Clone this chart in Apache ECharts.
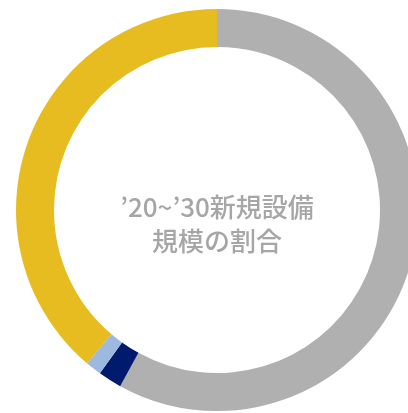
<!DOCTYPE html>
<html>
<head>
<meta charset="utf-8">
<script src="https://cdn.jsdelivr.net/npm/echarts@6/dist/echarts.min.js"></script>
<style>
html, body { margin: 0; padding: 0; background: #fff; }
#main { width: 408px; height: 413px; }
</style>
</head>
<body>
<div id="main"></div>
<script>
//区分名称
var names = ['既存', '区分B', '区分C', '新規'];
//割合(%)
var values = [58.0, 1.9, 1.3, 38.8];
//各区分の色
var colors = ['#B0B0B0', '#001A6E', '#9DB9E0', '#E6BC21'];
//中央の文字
var centerText = '\u201920~\u201930新規設備\n規模の割合';

var chart = echarts.init(document.getElementById('main'));

var pieData = [];
for (var i = 0; i < values.length; i++) {
	pieData.push({
		name: names[i],
		value: values[i],
		itemStyle: { color: colors[i] }
	});
}

chart.setOption({
	animation: false,
	title: {
		text: centerText,
		left: 212,
		top: 219,
		textAlign: 'center',
		textVerticalAlign: 'middle',
		textStyle: {
			fontFamily: 'Noto Sans CJK JP',
			fontSize: 26,
			fontWeight: 500,
			color: '#A6A6A6',
			lineHeight: 34
		}
	},
	series: [{
		type: 'pie',
		center: [217, 210],
		radius: [163, 201],
		startAngle: 90,
		clockwise: true,
		silent: true,
		label: { show: false },
		labelLine: { show: false },
		itemStyle: { borderWidth: 0 },
		data: pieData
	}]
});
</script>
</body>
</html>
